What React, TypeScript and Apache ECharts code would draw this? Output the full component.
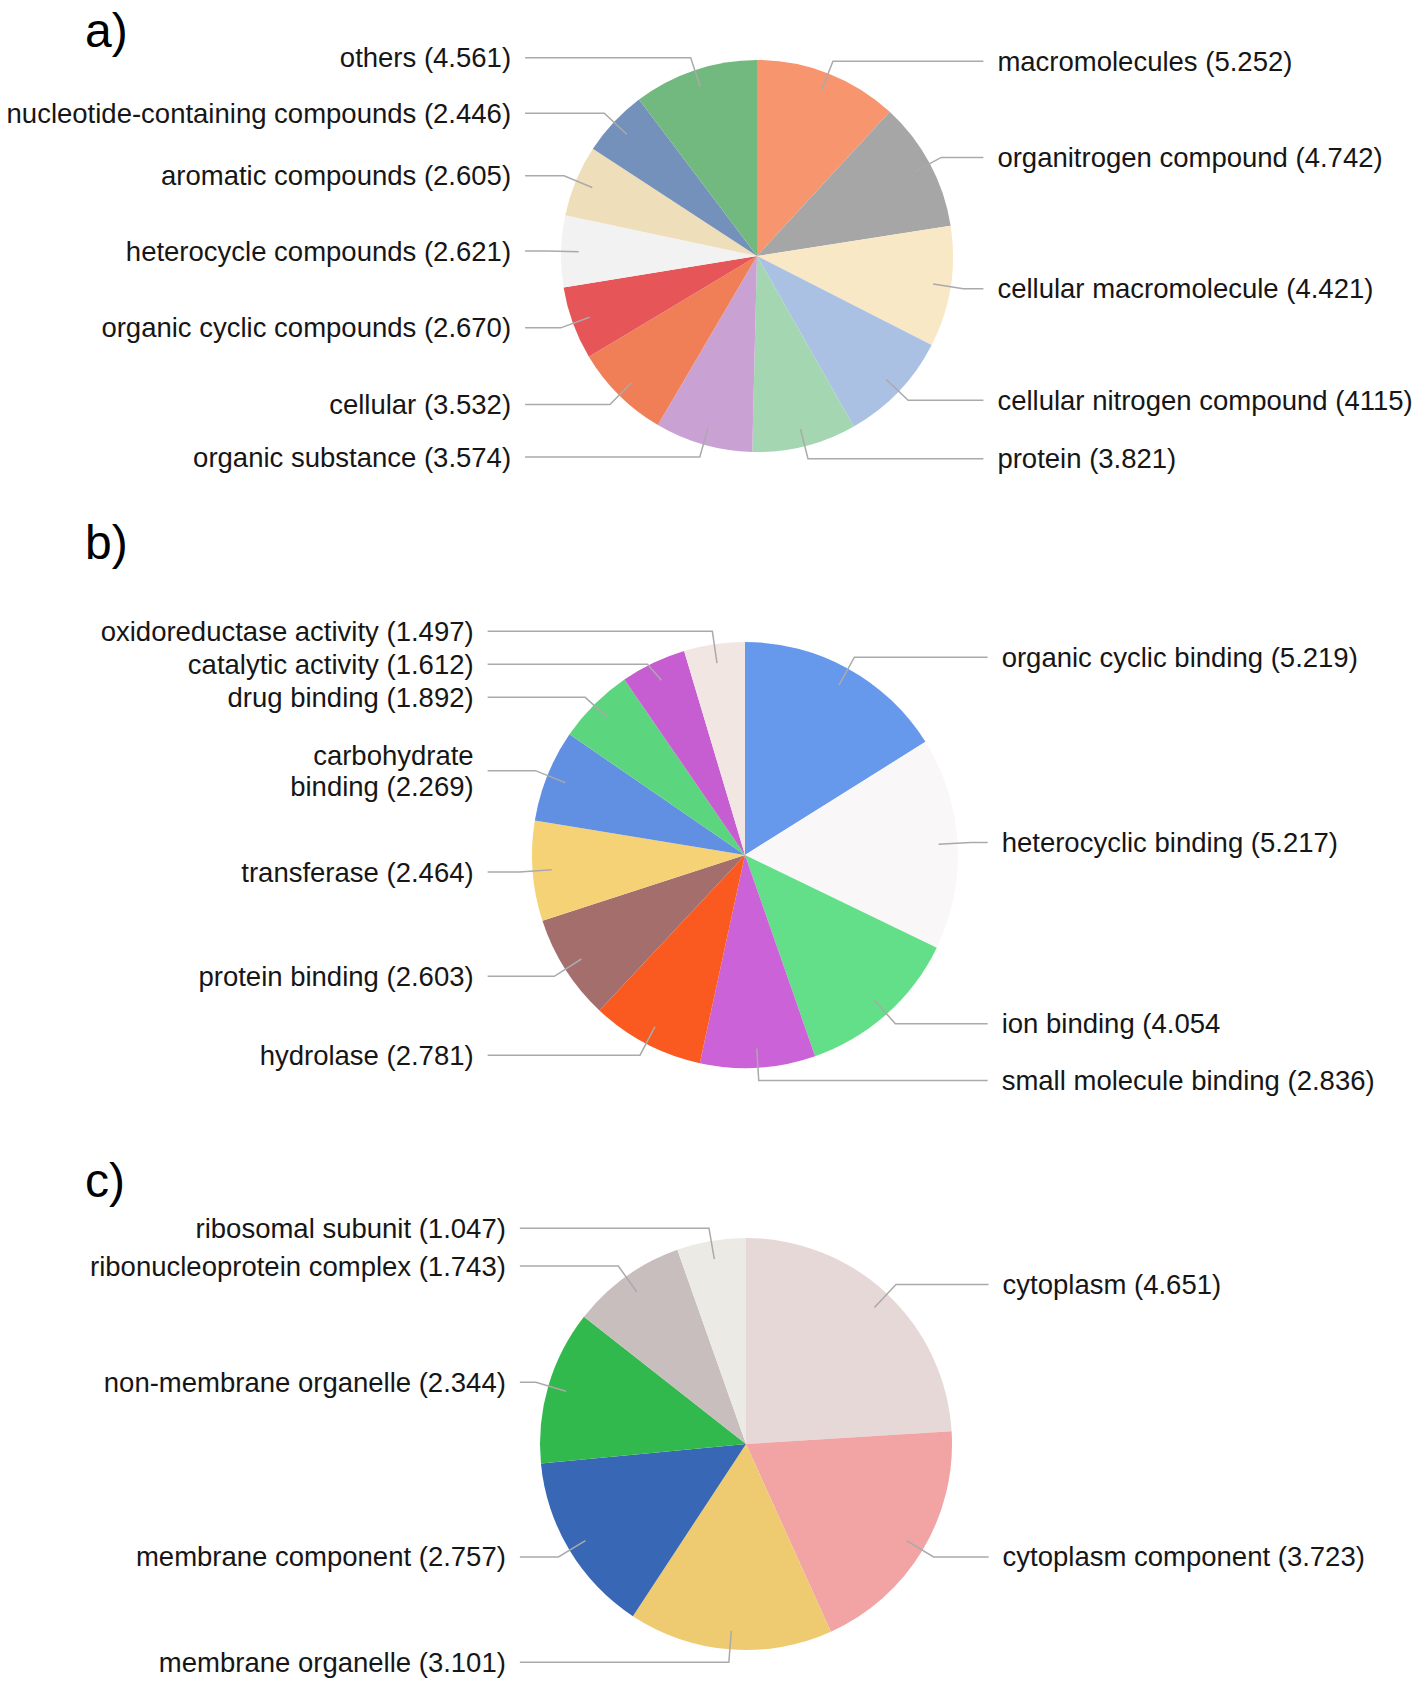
import React, { useEffect, useRef } from 'react';
import * as echarts from 'echarts';

// ---- Panel a) ----
const aNames = ['macromolecules', 'organitrogen compound', 'cellular macromolecule', 'cellular nitrogen compound', 'protein', 'organic substance', 'cellular', 'organic cyclic compounds', 'heterocycle compounds', 'aromatic compounds', 'nucleotide-containing compounds', 'others'];
const aValues = [5.252, 4.742, 4.421, 4.115, 3.821, 3.574, 3.532, 2.670, 2.621, 2.605, 2.446, 4.561];
const aValueText = ['(5.252)', '(4.742)', '(4.421)', '(4115)', '(3.821)', '(3.574)', '(3.532)', '(2.670)', '(2.621)', '(2.605)', '(2.446)', '(4.561)'];
const aColors = ['#F7956F', '#A6A6A6', '#F8E8C6', '#ABC1E4', '#A3D6B1', '#C9A2D3', '#F07F57', '#E65558', '#F2F2F2', '#EEDEB9', '#7391BB', '#72B97F'];

// ---- Panel b) ----
const bNames = ['organic cyclic binding', 'heterocyclic binding', 'ion binding', 'small molecule binding', 'hydrolase', 'protein binding', 'transferase', 'carbohydrate\nbinding', 'drug binding', 'catalytic activity', 'oxidoreductase activity'];
const bValues = [5.219, 5.217, 4.054, 2.836, 2.781, 2.603, 2.464, 2.269, 1.892, 1.612, 1.497];
const bValueText = ['(5.219)', '(5.217)', '(4.054', '(2.836)', '(2.781)', '(2.603)', '(2.464)', '(2.269)', '(1.892)', '(1.612)', '(1.497)'];
const bColors = ['#6698EC', '#FAF7F8', '#62DF88', '#CB62D8', '#FA5A1F', '#A46E6D', '#F6D276', '#6190E2', '#5CD57F', '#C65ED2', '#F2E6E3'];

// ---- Panel c) ----
const cNames = ['cytoplasm', 'cytoplasm component', 'membrane organelle', 'membrane component', 'non-membrane organelle', 'ribonucleoprotein complex', 'ribosomal subunit'];
const cValues = [4.651, 3.723, 3.101, 2.757, 2.344, 1.743, 1.047];
const cValueText = ['(4.651)', '(3.723)', '(3.101)', '(2.757)', '(2.344)', '(1.743)', '(1.047)'];
const cColors = ['#E7D8D8', '#F2A3A3', '#EECB70', '#3867B5', '#31B94D', '#C8BEBE', '#EBEAE5'];

const panelLetters = ['a)', 'b)', 'c)'];

const FONT = '"Liberation Sans", Arial, Helvetica, sans-serif';

function makePie(
  names: string[], values: number[], texts: string[], colors: string[],
  center: number[], r: number, len2Left: number, len2Right: number
) {
  const total = values.reduce((s, v) => s + v, 0);
  let acc = 0;
  const sides = values.map((v) => {
    const mid = (acc + v / 2) / total; // fraction clockwise from 12 o'clock
    acc += v;
    return mid < 0.5 ? 'right' : 'left';
  });
  const data = values.map((v, i) => ({ name: names[i], value: v, itemStyle: { color: colors[i] } }));
  const rIn = r * 0.91;
  const fill = {
    type: 'pie',
    center,
    radius: r,
    startAngle: 90,
    clockwise: true,
    silent: true,
    avoidLabelOverlap: false,
    label: { show: false },
    labelLine: { show: false },
    itemStyle: { borderWidth: 0 },
    emphasis: { disabled: true },
    data,
    z: 1,
  };
  const labels = {
    type: 'pie',
    center,
    radius: rIn,
    startAngle: 90,
    clockwise: true,
    silent: true,
    itemStyle: { color: 'rgba(0,0,0,0)', borderWidth: 0 },
    emphasis: { disabled: true },
    label: {
      show: true,
      formatter: (p: any) => names[p.dataIndex] + ' ' + texts[p.dataIndex],
      fontSize: 27.5,
      fontFamily: FONT,
      color: '#161616',
      lineHeight: 31,
      alignTo: 'labelLine',
      distanceToLabelLine: 14,
      width: 600,
      overflow: 'none',
    },
    labelLine: {
      show: true,
      length: r - rIn + 13,
      length2: 22,
      smooth: false,
      lineStyle: { color: '#aaaaaa', width: 1.5 },
    },
    data: values.map((v, i) => ({
      name: names[i],
      value: v,
      labelLine: { length2: sides[i] === 'left' ? len2Left : len2Right },
    })),
    z: 2,
  };
  return [fill, labels];
}

export default function App() {
  const ref = useRef<HTMLDivElement>(null);
  useEffect(() => {
    if (!ref.current) return;
    const chart = echarts.init(ref.current, null, { renderer: 'svg' });
    const option = {
      animation: false,
      backgroundColor: '#ffffff',
      graphic: [
        { type: 'text', left: 85, top: 6, style: { text: panelLetters[0], fontSize: 48, fontFamily: FONT, fill: '#000' } },
        { type: 'text', left: 85, top: 518, style: { text: panelLetters[1], fontSize: 48, fontFamily: FONT, fill: '#000' } },
        { type: 'text', left: 85, top: 1156, style: { text: panelLetters[2], fontSize: 48, fontFamily: FONT, fill: '#000' } },
      ],
      series: [
        ...makePie(aNames, aValues, aValueText, aColors, [757, 256], 196, 23, 20),
        ...makePie(bNames, bValues, bValueText, bColors, [745, 855], 213, 32, 17),
        ...makePie(cNames, cValues, cValueText, cColors, [746, 1444], 206, 16, 55),
      ],
    };
    chart.setOption(option as any);
    return () => chart.dispose();
  }, []);
  return (
    <div
      ref={ref}
      style={{ position: 'absolute', left: 0, top: 0, width: 1418, height: 1681, background: '#fff' }}
    />
  );
}
